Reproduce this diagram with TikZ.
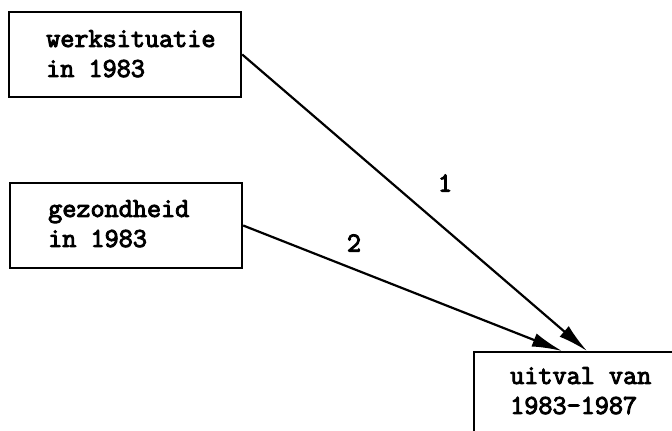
\documentclass[tikz,border=0pt]{standalone}
\usepackage{fontspec}
\newfontfamily\twfont{Latin Modern Mono}[AutoFakeBold=3.5]
\usetikzlibrary{arrows.meta}
\begin{document}
\begin{tikzpicture}[x=1pt,y=-1pt,
  box/.style={draw,line width=2.4pt,rectangle,inner sep=0pt},
  lbl/.style={font=\twfont\bfseries\fontsize{27.4}{30}\selectfont,align=left,anchor=north west,inner sep=0pt},
  num/.style={font=\twfont\bfseries\fontsize{27.4}{30}\selectfont,inner sep=0pt},
  link/.style={line width=2.2pt,-{Latex[length=30pt,width=14pt]}}]
\useasboundingbox[fill=white] (0,0) rectangle (672,431);
\begin{scope}
\clip (0,0) rectangle (672,431);
% source boxes
\node[box,minimum width=232pt,minimum height=85pt] (b1) at (125,54.5) {};
\node[box,minimum width=232pt,minimum height=85pt] (b2) at (126,225.5) {};
% target box, running past the right and lower edges
\node[box,minimum width=230pt,minimum height=110pt] (b3) at (589,407) {};
\end{scope}
% box texts
\node[lbl] (t1) at (46,30) {werksituatie\\in 1983};
\node[lbl] (t2) at (48,200) {gezondheid\\in 1983};
\node[lbl] (t3) at (510,367) {uitval van\\1983-1987};
% arrow ends on the top edge of the target box
\coordinate (e1) at (587,351);
\coordinate (e2) at (562,351);
\draw[link] (b1.east) -- (e1);
\draw[link] (b2.east) -- (e2);
\node[num] (n1) at (445,183) {1};
\node[num] (n2) at (354,243) {2};
\end{tikzpicture}
\end{document}
